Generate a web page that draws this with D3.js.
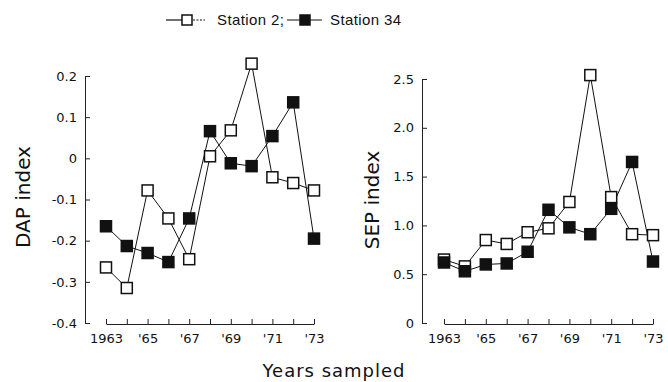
<!DOCTYPE html>
<meta charset="utf-8">
<script src="https://d3js.org/d3.v7.min.js"></script>
<style>
  body { margin: 0; background: #fff; }
  text { font-family: "DejaVu Sans", sans-serif; fill: #111; }
</style>
<div id="my_dataviz"></div>
<script>

// data
var years = [1963, 1964, 1965, 1966, 1967, 1968, 1969, 1970, 1971, 1972, 1973];
var dapStation2  = [-0.265, -0.315, -0.078, -0.146, -0.245, 0.005, 0.068, 0.23, -0.046, -0.06, -0.078];
var dapStation34 = [-0.165, -0.213, -0.23, -0.252, -0.146, 0.066, -0.012, -0.019, 0.054, 0.136, -0.195];
var sepStation2  = [0.65, 0.58, 0.85, 0.81, 0.93, 0.97, 1.24, 2.54, 1.29, 0.91, 0.90];
var sepStation34 = [0.62, 0.53, 0.60, 0.61, 0.73, 1.16, 0.98, 0.91, 1.17, 1.65, 0.63];
var dapTicks = [0.2, 0.1, 0, -0.1, -0.2, -0.3, -0.4];
var sepTicks = [2.5, 2.0, 1.5, 1.0, 0.5, 0];
var dapTickLabels = ["0.2", "0.1", "0", "-0.1", "-0.2", "-0.3", "-0.4"];
var sepTickLabels = ["2.5", "2.0", "1.5", "1.0", "0.5", "0"];
var seriesNames = ["Station 2;", "Station 34"];

var W = 668, H = 382;
var svg = d3.select("#my_dataviz")
  .append("svg")
    .attr("width", W)
    .attr("height", H);

function drawPanel(opt) {
  var x = d3.scaleLinear().domain([1963, 1973]).range(opt.xRange);
  var y = d3.scaleLinear().domain(opt.yDomain).range([323, opt.yTop]);

  // y axis, ticks pointing inward
  var yAxis = svg.append("g")
    .attr("transform", "translate(" + opt.yAxisX + ",0)")
    .call(d3.axisLeft(y).tickValues(opt.ticks).tickSize(-5).tickSizeOuter(0).tickPadding(8)
      .tickFormat(function(d, i) { return opt.tickLabels[i]; }));
  yAxis.selectAll("text").style("font-size", "13px");

  // x axis, ticks pointing up
  var xAxis = svg.append("g")
    .attr("transform", "translate(0,324)")
    .call(d3.axisBottom(x).tickValues(years).tickSize(-5).tickSizeOuter(0).tickPadding(10)
      .tickFormat(function(d) {
        if (d % 2 == 0) return "";
        return d == 1963 ? "1963" : "'" + String(d).slice(2);
      }));
  xAxis.selectAll("text").style("font-size", "13px");
  svg.selectAll(".domain, .tick line").attr("stroke", "#222").attr("stroke-width", 1);

  // axis title
  svg.append("text")
    .attr("transform", "translate(" + opt.titleX + "," + opt.titleY + ") rotate(-90)")
    .attr("text-anchor", "middle")
    .attr("dy", "0.35em")
    .style("font-size", "20px")
    .text(opt.title);

  var line = d3.line()
    .x(function(d, i) { return x(years[i]); })
    .y(function(d) { return y(d); });

  [opt.s2, opt.s34].forEach(function(vals, k) {
    svg.append("path")
      .datum(vals)
      .attr("d", line)
      .attr("fill", "none")
      .attr("stroke", "#111")
      .attr("stroke-width", 1);
  });

  [opt.s2, opt.s34].forEach(function(vals, k) {
    svg.append("g").selectAll("rect")
      .data(vals)
      .enter()
      .append("rect")
        .attr("x", function(d, i) { return x(years[i]) - 5.5; })
        .attr("y", function(d) { return y(d) - 5.5; })
        .attr("width", 11)
        .attr("height", 11)
        .attr("fill", k == 0 ? "#fff" : "#111")
        .attr("stroke", "#111")
        .attr("stroke-width", 1.5);
  });
}

drawPanel({
  xRange: [106, 314], yDomain: [-0.4, 0.2], yTop: 76, yAxisX: 85,
  ticks: dapTicks, tickLabels: dapTickLabels,
  title: "DAP index", titleX: 23, titleY: 197,
  s2: dapStation2, s34: dapStation34
});

drawPanel({
  xRange: [444, 653], yDomain: [0, 2.5], yTop: 79, yAxisX: 422,
  ticks: sepTicks, tickLabels: sepTickLabels,
  title: "SEP index", titleX: 372, titleY: 200,
  s2: sepStation2, s34: sepStation34
});

// x title
svg.append("text")
  .attr("x", 334)
  .attr("y", 377)
  .attr("text-anchor", "middle")
  .style("font-size", "18px")
  .style("letter-spacing", "1px")
  .text("Years sampled");

// legend
var legend = svg.append("g");
// Station 2: solid line, open square, dashed tail
legend.append("line").attr("x1", 166).attr("x2", 182).attr("y1", 20).attr("y2", 20)
  .attr("stroke", "#111").attr("stroke-width", 1.2);
legend.append("line").attr("x1", 193).attr("x2", 205).attr("y1", 20).attr("y2", 20)
  .attr("stroke", "#111").attr("stroke-width", 1).attr("stroke-dasharray", "2,1.5");
legend.append("rect").attr("x", 182).attr("y", 15).attr("width", 10).attr("height", 10)
  .attr("fill", "#fff").attr("stroke", "#111").attr("stroke-width", 1.5);
legend.append("text").attr("x", 217).attr("y", 20).attr("dy", "0.35em")
  .style("font-family", "Liberation Sans").style("font-size", "15px")
  .style("letter-spacing", "0.4px").text(seriesNames[0]);
// Station 34
legend.append("line").attr("x1", 287).attr("x2", 322).attr("y1", 20).attr("y2", 20)
  .attr("stroke", "#111").attr("stroke-width", 1.2);
legend.append("rect").attr("x", 300).attr("y", 15).attr("width", 10).attr("height", 10)
  .attr("fill", "#111").attr("stroke", "#111").attr("stroke-width", 1.5);
legend.append("text").attr("x", 330).attr("y", 20).attr("dy", "0.35em")
  .style("font-family", "Liberation Sans").style("font-size", "15px")
  .style("letter-spacing", "0.4px").text(seriesNames[1]);

</script>
